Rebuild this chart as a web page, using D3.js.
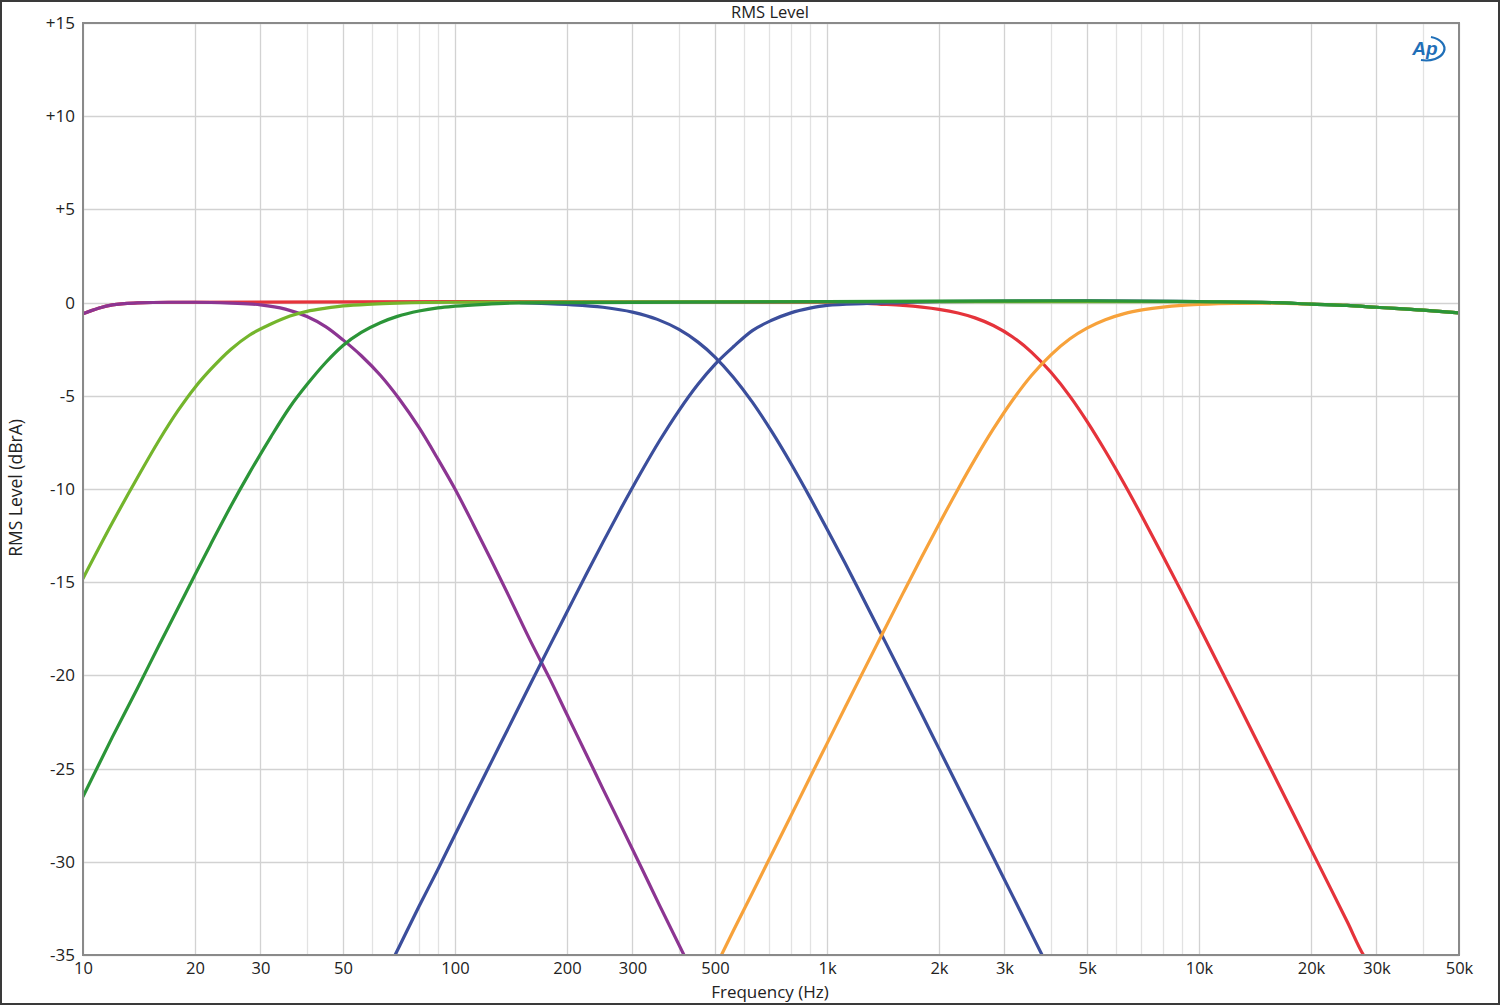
<!DOCTYPE html>
<html>
<head>
<meta charset="utf-8">
<script src="https://cdn.jsdelivr.net/npm/d3@7"></script>
<style>
  html, body { margin: 0; padding: 0; background: #fff; }
  svg { display: block; font-family: "Open Sans", "Noto Sans", sans-serif; }
</style>
</head>
<body>
<svg id="chart" width="1500" height="1005"></svg>
<script>
// ---------------- data ----------------
const xTickValues = [10, 20, 30, 50, 100, 200, 300, 500, 1000, 2000, 3000, 5000, 10000, 20000, 30000, 50000];
const xTickLabels = ["10", "20", "30", "50", "100", "200", "300", "500", "1k", "2k", "3k", "5k", "10k", "20k", "30k", "50k"];
const yTickValues = [15, 10, 5, 0, -5, -10, -15, -20, -25, -30, -35];
const yTickLabels = ["+15", "+10", "+5", "0", "-5", "-10", "-15", "-20", "-25", "-30", "-35"];

const blueLowFreq = [150, 200, 250, 300, 350, 400, 450, 500, 560, 630, 710, 800, 900, 1000, 1120, 1250, 1400, 1600, 1800, 2000, 2250, 2500, 2800, 3150, 3550, 4000];
const blueLowDb   = [0, -0.1, -0.25, -0.51, -0.9, -1.44, -2.12, -2.92, -4.0, -5.34, -6.91, -8.63, -10.45, -12.14, -14.0, -15.86, -17.79, -20.07, -22.1, -23.93, -25.97, -27.79, -29.76, -31.8, -33.88, -35.95];

const redFreq = [10, 11, 12, 14, 17, 100, 1000, 1400, 1600, 1800, 2000, 2250, 2500, 2800, 3150, 3550, 4000, 4500, 5000, 5600, 6300, 7100, 8000, 9000, 10000, 11200, 12500, 14000, 16000, 18000, 20000, 22500, 25000, 28000, 30000];
const redDb   = [-0.6, -0.3, -0.12, -0.02, 0.02, 0.05, 0.02, -0.09, -0.15, -0.24, -0.36, -0.56, -0.82, -1.23, -1.83, -2.67, -3.74, -5.03, -6.37, -7.96, -9.73, -11.63, -13.59, -15.56, -17.35, -19.29, -21.18, -23.14, -25.45, -27.49, -29.32, -31.36, -33.19, -35.16, -35.8];

const purpleFreq = [10, 11, 12, 14, 17, 20, 25, 30, 35, 40, 45, 50, 56, 63, 71, 80, 90, 100, 112, 125, 140, 160, 180, 200, 225, 250, 280, 315, 355, 412.6, 450];
const purpleDb   = [-0.6, -0.3, -0.12, -0.02, 0.02, 0.02, -0.03, -0.12, -0.35, -0.75, -1.3, -2.0, -2.85, -3.9, -5.2, -6.7, -8.4, -10.0, -11.9, -13.8, -15.8, -18.2, -20.2, -22.1, -24.2, -26.1, -28.1, -30.2, -32.35, -35, -36.5];

const blueHighFreq = [63, 71, 80, 90, 100, 112, 125, 140, 160, 180, 200, 225, 250, 280, 315, 355, 400, 450, 500, 560, 630, 710, 800, 900, 1000, 1250, 1600, 2000, 5000, 10000, 16000, 20000, 25000, 30000, 40000, 50000];
const blueHighDb   = [-36.6, -34.5, -32.4, -30.4, -28.55, -26.58, -24.68, -22.72, -20.41, -18.39, -16.6, -14.6, -12.85, -11.01, -9.17, -7.4, -5.79, -4.38, -3.31, -2.37, -1.5, -0.95, -0.55, -0.3, -0.15, -0.05, 0, 0.05, 0.1, 0.05, 0, -0.08, -0.15, -0.25, -0.4, -0.55];

const orangeFreq = [500, 560, 630, 710, 800, 900, 1000, 1120, 1250, 1400, 1600, 1800, 2000, 2250, 2500, 2800, 3150, 3550, 4000, 4500, 5000, 5600, 6300, 7100, 8000, 9000, 10000, 12500, 16000, 20000, 25000, 30000, 40000, 50000];
const orangeDb   = [-35.7, -33.7, -31.67, -29.6, -27.53, -25.48, -23.66, -21.7, -19.81, -17.87, -15.6, -13.62, -11.89, -10.01, -8.4, -6.78, -5.25, -3.9, -2.8, -1.94, -1.37, -0.92, -0.59, -0.38, -0.24, -0.15, -0.1, -0.04, -0.03, -0.08, -0.15, -0.25, -0.4, -0.55];

const lightGreenFreq = [10, 12, 14, 16, 18, 20, 22, 25, 28, 32, 36, 40, 45, 50, 60, 70, 100, 1000, 10000, 16000, 20000, 25000, 30000, 40000, 50000];
const lightGreenDb   = [-14.8, -11.8, -9.4, -7.4, -5.8, -4.55, -3.6, -2.5, -1.75, -1.15, -0.72, -0.47, -0.3, -0.18, -0.08, -0.03, 0.02, 0.05, 0.05, 0, -0.08, -0.15, -0.25, -0.4, -0.55];

const darkGreenFreq = [10, 12, 14, 16, 18, 20, 22, 25, 28, 32, 36, 40, 45, 50, 56, 63, 70, 80, 90, 100, 120, 150, 1000, 5000, 10000, 16000, 20000, 25000, 30000, 40000, 50000];
const darkGreenDb   = [-26.5, -23.3, -20.7, -18.4, -16.4, -14.6, -13.0, -10.9, -9.15, -7.2, -5.6, -4.4, -3.2, -2.3, -1.6, -1.08, -0.74, -0.45, -0.28, -0.19, -0.09, -0.02, 0.05, 0.1, 0.05, 0, -0.08, -0.15, -0.25, -0.4, -0.55];

const seriesList = [
  { name: "blueLow",    freq: blueLowFreq,    db: blueLowDb,    color: "#3b4e9c" },
  { name: "red",        freq: redFreq,        db: redDb,        color: "#e5333b" },
  { name: "purple",     freq: purpleFreq,     db: purpleDb,     color: "#8c3592" },
  { name: "blueHigh",   freq: blueHighFreq,   db: blueHighDb,   color: "#3b4e9c" },
  { name: "orange",     freq: orangeFreq,     db: orangeDb,     color: "#f7a23b" },
  { name: "lightGreen", freq: lightGreenFreq, db: lightGreenDb, color: "#74b52c" },
  { name: "darkGreen",  freq: darkGreenFreq,  db: darkGreenDb,  color: "#2b9538" }
];

// ---------------- layout ----------------
const svg = d3.select("#chart");
const W = 1500, H = 1005;
const plot = { left: 83, top: 23, right: 1459, bottom: 955 };

const x = d3.scaleLog().domain([10, 50000]).range([plot.left, plot.right]);
const y = d3.scaleLinear().domain([-35, 15]).range([plot.bottom, plot.top]);

// outer border
svg.append("rect").attr("x", 1).attr("y", 1).attr("width", W - 2).attr("height", H - 2)
  .attr("fill", "#fff").attr("stroke", "#3a3a3a").attr("stroke-width", 2);

// grid
const minorTicks = [];
[10, 100, 1000, 10000].forEach(dec => {
  for (let n = 1; n <= 9; n++) { const v = n * dec; if (v >= 10 && v <= 50000) minorTicks.push(v); }
});
const grid = svg.append("g");
grid.selectAll("line.v").data(minorTicks).join("line")
  .attr("x1", d => Math.round(x(d)) + 0.5).attr("x2", d => Math.round(x(d)) + 0.5)
  .attr("y1", plot.top).attr("y2", plot.bottom)
  .attr("stroke", d => xTickValues.includes(d) ? "#d2d2d2" : "#e2e2e2").attr("stroke-width", 1.3);
grid.selectAll("line.h").data(yTickValues).join("line")
  .attr("x1", plot.left).attr("x2", plot.right)
  .attr("y1", d => Math.round(y(d)) + 0.5).attr("y2", d => Math.round(y(d)) + 0.5)
  .attr("stroke", "#d2d2d2").attr("stroke-width", 1.3);

// clip
svg.append("clipPath").attr("id", "clip").append("rect")
  .attr("x", plot.left).attr("y", plot.top).attr("width", plot.right - plot.left).attr("height", plot.bottom - plot.top);

const line = d3.line().x(d => x(d[0])).y(d => y(d[1])).curve(d3.curveMonotoneX);
const curves = svg.append("g").attr("clip-path", "url(#clip)");
seriesList.forEach(s => {
  const pts = s.freq.map((f, i) => [f, s.db[i]]);
  curves.append("path").datum(pts).attr("d", line)
    .attr("fill", "none").attr("stroke", s.color).attr("stroke-width", 3.2)
    .attr("stroke-linejoin", "round").attr("stroke-linecap", "round");
});

// frame
svg.append("rect").attr("x", plot.left).attr("y", plot.top)
  .attr("width", plot.right - plot.left).attr("height", plot.bottom - plot.top)
  .attr("fill", "none").attr("stroke", "#8a8a8a").attr("stroke-width", 2);

// axes (labels via d3 axes)
const xAxis = d3.axisBottom(x).tickValues(xTickValues).tickFormat((d, i) => xTickLabels[i]).tickSize(0).tickPadding(7);
const gx = svg.append("g").attr("transform", `translate(0,${plot.bottom})`).call(xAxis);
gx.select(".domain").remove();
gx.selectAll("text").attr("font-size", 16.5).attr("fill", "#222").attr("font-family", "'Open Sans', sans-serif");

const yAxis = d3.axisLeft(y).tickValues(yTickValues).tickFormat((d, i) => yTickLabels[i]).tickSize(0).tickPadding(8);
const gy = svg.append("g").attr("transform", `translate(${plot.left},0)`).call(yAxis);
gy.select(".domain").remove();
gy.selectAll("text").attr("font-size", 17).attr("fill", "#222").attr("font-family", "'Open Sans', sans-serif");

// titles
svg.append("text").attr("x", 770).attr("y", 18).attr("text-anchor", "middle")
  .attr("font-size", 16.5).attr("fill", "#222").text("RMS Level");
svg.append("text").attr("x", 770).attr("y", 998).attr("text-anchor", "middle")
  .attr("font-size", 17).attr("fill", "#222").text("Frequency (Hz)");
svg.append("text").attr("transform", "translate(22,488) rotate(-90)").attr("text-anchor", "middle")
  .attr("font-size", 17.5).attr("fill", "#222").text("RMS Level (dBrA)");

// AP logo
const logo = svg.append("g").attr("transform", "translate(1427,49)");
logo.append("path").attr("d", "M -6 11 A 17 11 0 1 0 4 -12")
  .attr("fill", "none").attr("stroke", "#1f6fb8").attr("stroke-width", 2.2);
logo.append("text").attr("x", -2).attr("y", 6).attr("text-anchor", "middle")
  .attr("font-size", 19).attr("font-weight", "bold").attr("font-style", "italic")
  .attr("fill", "#1f6fb8").attr("font-family", "'Liberation Sans', Arial, sans-serif").text("Ap");
</script>
</body>
</html>
